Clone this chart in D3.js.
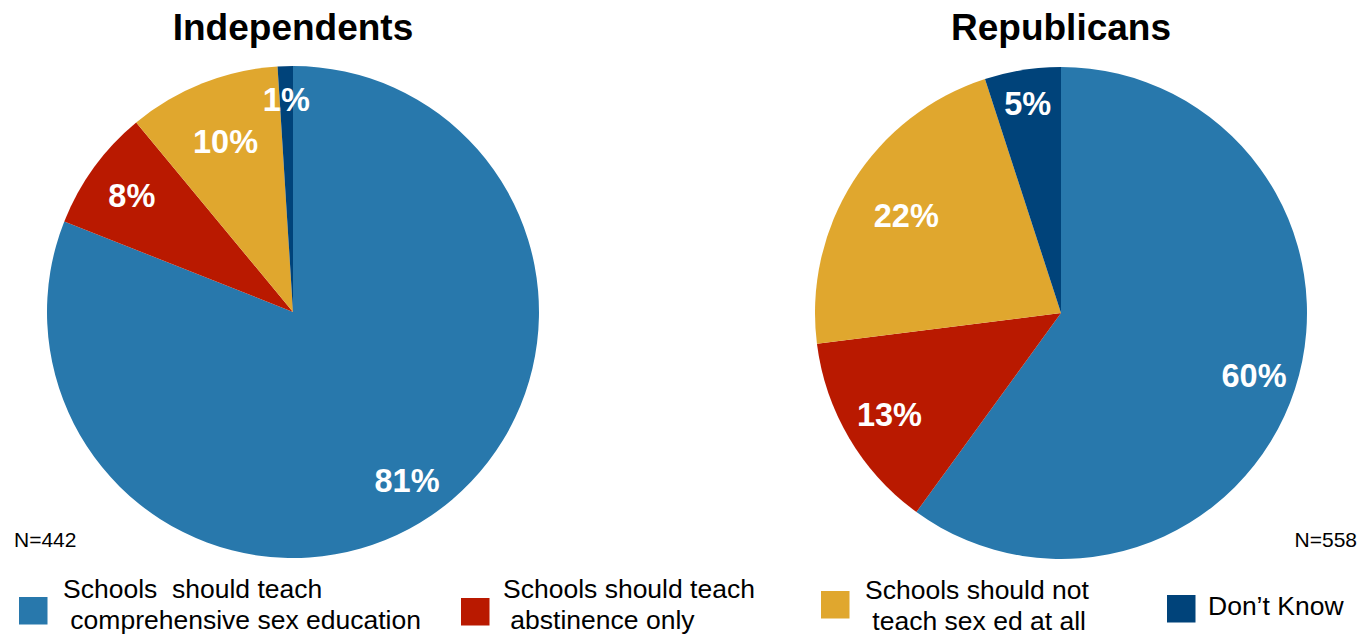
<!DOCTYPE html>
<html>
<head>
<meta charset="utf-8">
<script src="https://cdn.jsdelivr.net/npm/d3@7"></script>
<style>
  html, body { margin: 0; padding: 0; background: #fff; }
  svg { display: block; font-family: "Liberation Sans", Arial, sans-serif; }
  text { white-space: pre; }
</style>
</head>
<body>
<svg id="chart" width="1361" height="636"></svg>
<script>
// ---- data ----
const categories = [
  ["Schools  should teach", " comprehensive sex education"],
  ["Schools should teach", " abstinence only"],
  ["Schools should not", " teach sex ed at all"],
  ["Don\u2019t Know"]
];
const groups = ["Independents", "Republicans"];
const independentsValues = [81, 8, 10, 1];
const republicansValues = [60, 13, 22, 5];
const sampleSizes = ["N=442", "N=558"];

// ---- style ----
const colors = ["#2878AC", "#B91900", "#E0A72E", "#00437A"];
const labelRadiusFactor = [0.825, 0.81, 0.745, 0.865];

const svg = d3.select("#chart");
const radius = 246;
const centers = [[293, 312], [1061, 313]];
const seriesList = [independentsValues, republicansValues];

const pie = d3.pie().sort(null).value(d => d).startAngle(0).endAngle(2 * Math.PI);
const arc = d3.arc().innerRadius(0).outerRadius(radius);

seriesList.forEach((vals, gi) => {
  const g = svg.append("g").attr("transform", `translate(${centers[gi][0]},${centers[gi][1]})`);
  const arcs = pie(vals);
  g.selectAll("path").data(arcs).join("path")
    .attr("d", arc)
    .attr("fill", (d, i) => colors[i]);

  g.selectAll("text.lbl").data(arcs).join("text")
    .attr("class", "lbl")
    .attr("transform", (d, i) => {
      const r = radius * labelRadiusFactor[i];
      const la = d3.arc().innerRadius(r).outerRadius(r);
      const [x, y] = la.centroid(d);
      return `translate(${x},${y})`;
    })
    .attr("text-anchor", "middle")
    .attr("dy", "0.36em")
    .attr("fill", "#fff")
    .attr("font-weight", "bold")
    .attr("font-size", 32.5)
    .text(d => d.data + "%");

  svg.append("text")
    .attr("x", centers[gi][0])
    .attr("y", 39.5)
    .attr("text-anchor", "middle")
    .attr("font-weight", "bold")
    .attr("font-size", 37)
    .attr("fill", "#000")
    .text(groups[gi]);
});

// sample sizes
svg.append("text").attr("x", 14).attr("y", 547).attr("font-size", 21).attr("fill", "#000").text(sampleSizes[0]);
svg.append("text").attr("x", 1357).attr("y", 547).attr("text-anchor", "end").attr("font-size", 21).attr("fill", "#000").text(sampleSizes[1]);

// legend
const legendItems = [
  { sx: 19, sy: 597, tx: 63, ty: 598 },
  { sx: 461, sy: 598, tx: 503, ty: 598 },
  { sx: 821, sy: 591, tx: 865, ty: 599 },
  { sx: 1167, sy: 595, tx: 1208, ty: 615 }
];
const lg = svg.append("g");
legendItems.forEach((p, i) => {
  lg.append("rect").attr("x", p.sx).attr("y", p.sy).attr("width", 28.5).attr("height", 27.5).attr("fill", colors[i]);
  const t = lg.append("text").attr("x", p.tx).attr("y", p.ty).attr("font-size", 26.5).attr("fill", "#000");
  categories[i].forEach((line, li) => {
    t.append("tspan").attr("x", p.tx).attr("dy", li === 0 ? 0 : 31).text(line);
  });
});
</script>
</body>
</html>
